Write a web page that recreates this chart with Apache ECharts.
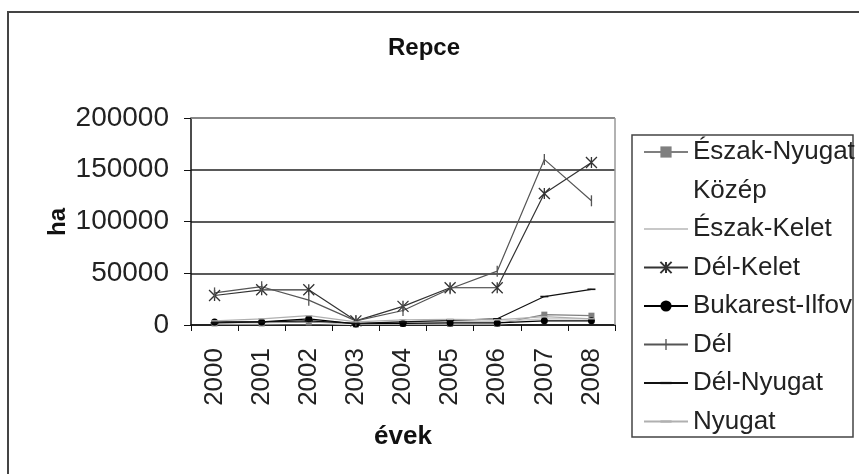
<!DOCTYPE html>
<html>
<head>
<meta charset="utf-8">
<script src="https://cdn.jsdelivr.net/npm/echarts@6/dist/echarts.min.js"></script>
<style>
html,body{margin:0;padding:0;background:#fff;}
#c{width:859px;height:474px;}
</style>
</head>
<body>
<div id="c"></div>
<script>
var years = ['2000','2001','2002','2003','2004','2005','2006','2007','2008'];
var yTicks = [0, 50000, 100000, 150000, 200000];
var eszakNyugat = [1500, 1500, 2500, 500, 1000, 1000, 1000, 10000, 9000];
var kozep = [1000, 1000, 1500, 500, 1000, 1000, 1000, 3000, 3000];
var eszakKelet = [2500, 3000, 4000, 1500, 3000, 3500, 3500, 6000, 6000];
var delKelet = [28500, 34000, 34000, 4000, 18000, 36000, 36000, 127000, 157000];
var bukarestIlfov = [3000, 3000, 6000, 1000, 1500, 2000, 2000, 4000, 4000];
var del = [31000, 37000, 24000, 4000, 14000, 35000, 52000, 160000, 120000];
var delNyugat = [2000, 3000, 4000, 1500, 3000, 4500, 6000, 27500, 34500];
var nyugat = [4000, 6000, 9000, 3000, 5000, 5500, 5000, 8000, 6000];

var FONT = 'Liberation Sans, Arial, sans-serif';
var chart = echarts.init(document.getElementById('c'), null, {renderer:'canvas'});

function ser(name, data, color, symbol, size, opts){
  var s = {
    name: name, type: 'line', data: data,
    symbol: symbol, symbolSize: size, symbolKeepAspect: true,
    showAllSymbol: true,
    lineStyle: {color: color, width: 1.2},
    itemStyle: {color: color},
    emphasis: {disabled: true},
    animation: false
  };
  if (opts) { for (var k in opts) s[k] = opts[k]; }
  return s;
}

var asterisk = 'path://M0,0L10,10M10,0L0,10M5,0L5,10';
var vtick = 'path://M0,0L0,0M10,10L10,10M4.4,0L5.6,0L5.6,10L4.4,10Z';
var hdash = 'path://M0,0L0,0M10,10L10,10M0,4L10,4L10,6L0,6Z';
var hdashThin = 'path://M0,0L0,0M10,10L10,10M2,4.5L8,4.5L8,5.5L2,5.5Z';

var option = {
  animation: false,
  grid: {left: 191, right: 244, top: 118, bottom: 149},
  xAxis: {
    type: 'category', data: years, boundaryGap: true,
    axisLine: {lineStyle: {color: '#111', width: 1.5}},
    axisTick: {show: true, length: 6, interval: 0, lineStyle: {color: '#111', width: 1}},
    axisLabel: {rotate: 90, margin: 23, fontSize: 26, fontFamily: FONT, color: '#222', interval: 0}
  },
  yAxis: {
    type: 'value', min: 0, max: 200000, interval: 50000,
    axisLine: {show: true, lineStyle: {color: '#111', width: 1.5}},
    axisTick: {show: true, length: 7, lineStyle: {color: '#111'}},
    axisLabel: {fontSize: 28, fontFamily: FONT, color: '#222', margin: 22,
      formatter: function(v){ return yTicks.indexOf(v) >= 0 ? String(v) : ''; }},
    splitLine: {show: true, lineStyle: {color: '#222', width: 1.5}}
  },
  legend: {
    orient: 'vertical', left: 638, top: 134,
    itemWidth: 44, itemHeight: 14, itemGap: 12.5,
    textStyle: {fontSize: 26, lineHeight: 26, fontFamily: FONT, color: '#222'},
    selectedMode: false,
    data: ['Észak-Nyugat','Közép','Észak-Kelet','Dél-Kelet','Bukarest-Ilfov','Dél','Dél-Nyugat','Nyugat']
  },
  series: [
    ser('Észak-Nyugat', eszakNyugat, '#7f7f7f', 'rect', 6),
    ser('Közép', kozep, '#ffffff', 'none', 4),
    ser('Észak-Kelet', eszakKelet, '#c8c8c8', hdashThin, 8),
    ser('Dél-Kelet', delKelet, '#333333', asterisk, 11, {itemStyle:{color:'none', borderColor:'#333333', borderWidth:1.3}}),
    ser('Bukarest-Ilfov', bukarestIlfov, '#000000', 'circle', 7),
    ser('Dél', del, '#555555', vtick, 11),
    ser('Dél-Nyugat', delNyugat, '#111111', hdash, 8),
    ser('Nyugat', nyugat, '#b0b0b0', hdash, 7)
  ],
  graphic: [
    {type:'rect', shape:{x:8, y:12, width:860, height:480}, style:{fill:'none', stroke:'#444', lineWidth:2}, silent:true},
    {type:'rect', shape:{x:632, y:135, width:221, height:302}, style:{fill:'none', stroke:'#444', lineWidth:1.5}, silent:true},
    {type:'line', shape:{x1:191, y1:118, x2:615, y2:118}, style:{stroke:'#999', lineWidth:1.5}, silent:true, z:10},
    {type:'line', shape:{x1:615, y1:118, x2:615, y2:325}, style:{stroke:'#999', lineWidth:1.5}, silent:true, z:10},
    {type:'text', x:424, y:48, style:{text:'Repce', font:'bold 24px ' + FONT, fill:'#111', align:'center', verticalAlign:'middle'}, silent:true},
    {type:'text', x:58, y:222, rotation: Math.PI/2, style:{text:'ha', font:'bold 24px ' + FONT, fill:'#111', align:'center', verticalAlign:'middle'}, silent:true},
    {type:'text', x:403, y:437, style:{text:'évek', font:'bold 26px ' + FONT, fill:'#111', align:'center', verticalAlign:'middle'}, silent:true}
  ]
};
chart.setOption(option);
</script>
</body>
</html>
